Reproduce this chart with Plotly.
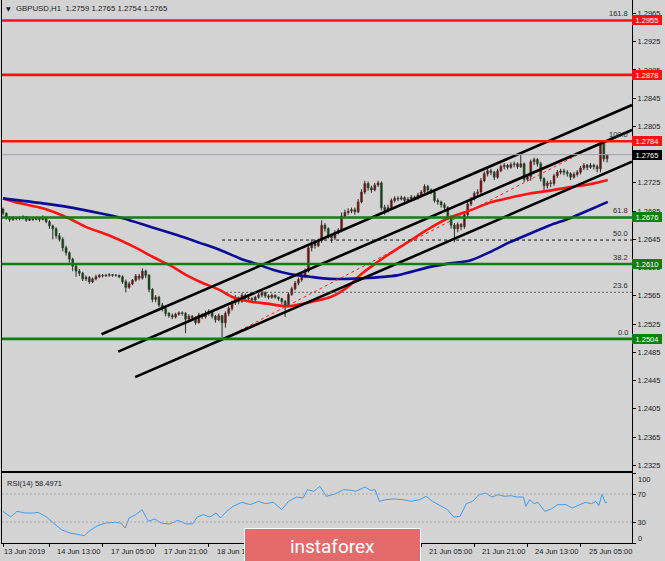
import plotly.graph_objects as go

# ---------------- data ----------------
title_text = "GBPUSD,H1  1.2759 1.2765 1.2754 1.2765"
rsi_text = "RSI(14) 58.4971"
first_open = 1.2688

closes = [
    1.2682, 1.2676, 1.2673, 1.2676, 1.2674, 1.2675, 1.2677, 1.2672, 1.2674, 1.2673,
    1.2675, 1.2673, 1.2676, 1.2670, 1.2664, 1.2660, 1.2650, 1.2645, 1.2633, 1.2626,
    1.2617, 1.2607, 1.2600, 1.2597, 1.2589, 1.2591, 1.2585, 1.2589, 1.2592, 1.2594,
    1.2593, 1.2594, 1.2595, 1.2594, 1.2594, 1.2592, 1.2585, 1.2577, 1.2582, 1.2587,
    1.2593, 1.2590, 1.2600, 1.2594, 1.2574, 1.2560, 1.2563, 1.2552, 1.2547, 1.2540,
    1.2537, 1.2535, 1.2539, 1.2541, 1.2540, 1.2532, 1.2536, 1.2534, 1.2527, 1.2538,
    1.2535, 1.2540, 1.2543, 1.2536, 1.2531, 1.2537, 1.2527, 1.2540, 1.2547, 1.2555,
    1.2562, 1.2557, 1.2566, 1.2562, 1.2561, 1.2559, 1.2563, 1.2566, 1.2570, 1.2565,
    1.2563, 1.2566, 1.2563, 1.2561, 1.2557, 1.2552, 1.2567, 1.2575, 1.2583, 1.2588,
    1.2593, 1.2600, 1.2633, 1.2640, 1.2636, 1.2643, 1.2665, 1.2660, 1.2649, 1.2647,
    1.2655, 1.2658, 1.2678, 1.2683, 1.2685, 1.2687, 1.2684, 1.2698, 1.2712, 1.2724,
    1.2718, 1.2715, 1.2722, 1.2725, 1.2690, 1.2686, 1.2690, 1.2700, 1.2703, 1.2702,
    1.2704, 1.2700, 1.2702, 1.2705, 1.2703, 1.2708, 1.2712, 1.2720, 1.2715, 1.2712,
    1.2700, 1.2698, 1.2694, 1.2690, 1.2677, 1.2665, 1.2660, 1.2666, 1.2663, 1.2680,
    1.2695, 1.2702, 1.2710, 1.2712, 1.2728, 1.2738, 1.2742, 1.2740, 1.2733, 1.2742,
    1.2748, 1.2750, 1.2747, 1.2751, 1.2752, 1.2748, 1.2752, 1.2730, 1.2734, 1.2755,
    1.2758, 1.2752, 1.2731, 1.2721, 1.2725, 1.2724, 1.2735, 1.2740, 1.2742, 1.2740,
    1.2738, 1.2733, 1.2737, 1.2740, 1.2746, 1.2750, 1.2747, 1.2750, 1.2748, 1.2745,
    1.2782, 1.2759, 1.2765]

highs = [
    1.2690, 1.2683, 1.2678, 1.2678, 1.2677, 1.2677, 1.2679, 1.2678, 1.2676, 1.2675,
    1.2677, 1.2676, 1.2679, 1.2677, 1.2672, 1.2666, 1.2662, 1.2654, 1.2648, 1.2636,
    1.2628, 1.2619, 1.2610, 1.2603, 1.2599, 1.2594, 1.2593, 1.2591, 1.2595, 1.2596,
    1.2596, 1.2596, 1.2597, 1.2596, 1.2596, 1.2595, 1.2594, 1.2588, 1.2585, 1.2589,
    1.2596, 1.2596, 1.2604, 1.2602, 1.2596, 1.2576, 1.2566, 1.2565, 1.2555, 1.2549,
    1.2542, 1.2540, 1.2541, 1.2543, 1.2543, 1.2542, 1.2539, 1.2538, 1.2536, 1.2541,
    1.2540, 1.2544, 1.2546, 1.2545, 1.2538, 1.2540, 1.2538, 1.2543, 1.2550, 1.2558,
    1.2566, 1.2564, 1.2569, 1.2568, 1.2565, 1.2563, 1.2565, 1.2569, 1.2573, 1.2571,
    1.2567, 1.2568, 1.2567, 1.2564, 1.2562, 1.2559, 1.2570, 1.2578, 1.2586, 1.2591,
    1.2597, 1.2604, 1.2637, 1.2645, 1.2643, 1.2646, 1.2672, 1.2668, 1.2662, 1.2651,
    1.2658, 1.2661, 1.2683, 1.2687, 1.2689, 1.2690, 1.2690, 1.2702, 1.2716, 1.2728,
    1.2727, 1.2721, 1.2725, 1.2728, 1.2727, 1.2694, 1.2694, 1.2703, 1.2706, 1.2706,
    1.2707, 1.2706, 1.2705, 1.2708, 1.2707, 1.2711, 1.2715, 1.2723, 1.2722, 1.2717,
    1.2714, 1.2703, 1.2700, 1.2697, 1.2692, 1.2679, 1.2668, 1.2669, 1.2668, 1.2684,
    1.2699, 1.2705, 1.2713, 1.2716, 1.2732, 1.2741, 1.2746, 1.2745, 1.2742, 1.2745,
    1.2751, 1.2753, 1.2752, 1.2754, 1.2755, 1.2754, 1.2766, 1.2754, 1.2737, 1.2758,
    1.2761, 1.2760, 1.2755, 1.2733, 1.2728, 1.2729, 1.2738, 1.2743, 1.2745, 1.2745,
    1.2743, 1.2740, 1.2740, 1.2743, 1.2749, 1.2753, 1.2752, 1.2753, 1.2752, 1.2751,
    1.2785, 1.2784, 1.2765]

lows = [
    1.2679, 1.2673, 1.2670, 1.2671, 1.2672, 1.2672, 1.2673, 1.2670, 1.2671, 1.2671,
    1.2672, 1.2670, 1.2672, 1.2668, 1.2660, 1.2645, 1.2646, 1.2642, 1.2628, 1.2622,
    1.2612, 1.2600, 1.2592, 1.2593, 1.2586, 1.2586, 1.2582, 1.2583, 1.2587, 1.2590,
    1.2591, 1.2592, 1.2592, 1.2592, 1.2592, 1.2590, 1.2582, 1.2570, 1.2575, 1.2580,
    1.2585, 1.2587, 1.2588, 1.2590, 1.2570, 1.2556, 1.2556, 1.2549, 1.2543, 1.2536,
    1.2534, 1.2532, 1.2533, 1.2537, 1.2537, 1.2512, 1.2528, 1.2530, 1.2524, 1.2526,
    1.2532, 1.2533, 1.2537, 1.2533, 1.2527, 1.2529, 1.2506, 1.2520, 1.2536, 1.2544,
    1.2552, 1.2553, 1.2555, 1.2559, 1.2558, 1.2556, 1.2557, 1.2561, 1.2563, 1.2562,
    1.2560, 1.2561, 1.2561, 1.2558, 1.2553, 1.2535, 1.2549, 1.2565, 1.2573, 1.2580,
    1.2585, 1.2590, 1.2598, 1.2628, 1.2632, 1.2634, 1.2640, 1.2656, 1.2646, 1.2640,
    1.2644, 1.2652, 1.2655, 1.2676, 1.2680, 1.2682, 1.2680, 1.2682, 1.2696, 1.2709,
    1.2714, 1.2711, 1.2713, 1.2719, 1.2686, 1.2680, 1.2683, 1.2688, 1.2697, 1.2699,
    1.2700, 1.2697, 1.2698, 1.2700, 1.2700, 1.2701, 1.2706, 1.2710, 1.2712, 1.2709,
    1.2697, 1.2694, 1.2690, 1.2686, 1.2672, 1.2660, 1.2641, 1.2655, 1.2658, 1.2660,
    1.2676, 1.2692, 1.2700, 1.2706, 1.2709, 1.2726, 1.2734, 1.2736, 1.2729, 1.2731,
    1.2740, 1.2744, 1.2744, 1.2745, 1.2747, 1.2745, 1.2746, 1.2726, 1.2727, 1.2728,
    1.2750, 1.2748, 1.2727, 1.2714, 1.2717, 1.2719, 1.2721, 1.2732, 1.2737, 1.2736,
    1.2734, 1.2729, 1.2731, 1.2734, 1.2737, 1.2743, 1.2743, 1.2745, 1.2744, 1.2740,
    1.2740, 1.2755, 1.2754]

opens = [first_open] + closes[:-1]
bars = list(range(len(closes)))

# moving averages (bar position, price)
red_ma_x = [0, 5.1, 12, 19.3, 25.3, 32.2, 39.2, 45.2, 51.2, 55.4, 59.3, 65.4, 69.3, 74.4,
            79.5, 85.5, 89.5, 92.5, 98.5, 101.5, 104.5, 107.5, 112, 116.6, 122.6, 128.6,
            134.6, 140.7, 146.7, 152.7, 158.7, 164.8, 170.8, 176.8, 182.2]
red_ma_y = [1.2703, 1.2696, 1.2689, 1.2676, 1.2662, 1.2650, 1.2635, 1.2620, 1.2606, 1.2594,
            1.2585, 1.2573, 1.2563, 1.2557, 1.2554, 1.2550, 1.2553, 1.2556, 1.2563, 1.2570,
            1.2580, 1.2594, 1.2610, 1.2625, 1.2643, 1.2661, 1.2676, 1.2686, 1.2697, 1.2704,
            1.2710, 1.2714, 1.2719, 1.2723, 1.2729]
blue_ma_x = [0, 12, 19.3, 29.2, 36.1, 44.3, 52.4, 59.3, 65.4, 71.4, 76.5, 81.3, 86.4, 92.5,
             98.5, 108.4, 118.7, 128.6, 134.6, 140.7, 146.7, 152.7, 158.7, 164.8, 170.8,
             176.8, 182.2]
blue_ma_y = [1.2703, 1.2696, 1.2691, 1.2682, 1.2675, 1.2663, 1.2651, 1.2640, 1.2630, 1.2618,
             1.2610, 1.2602, 1.2596, 1.2592, 1.2589, 1.2590, 1.2594, 1.2606, 1.2611, 1.2615,
             1.2627, 1.2641, 1.2653, 1.2665, 1.2675, 1.2687, 1.2698]

# channel trend lines (start bar, start price, end bar, end price)
chan_x0 = [29.7, 34.7, 39.8]
chan_y0 = [1.25105, 1.24859, 1.24498]
chan_x1 = [189.5, 189.5, 189.5]
chan_y1 = [1.28353, 1.27999, 1.27550]

# horizontal levels
red_levels = [1.2955, 1.2878, 1.2784]
green_levels = [1.2676, 1.2610, 1.2504]
bid_price = 1.2765

# fibonacci
fib_start_bar, fib_end_bar = 66.5, 181
fib_low, fib_high = 1.2504, 1.2784
fib_names = ["161.8", "100.0", "61.8", "50.0", "38.2", "23.6", "0.0"]
fib_prices = [1.2955, 1.2784, 1.2676, 1.2644, 1.2610, 1.2570, 1.2504]

# RSI (bar position, value)
rsi_x = [0, 2.3, 4.2, 6.8, 9.3, 10.6, 13.1, 15.7, 17.6, 20.2, 22.7, 24.6, 25.9, 28.5, 31,
         33.6, 35.5, 36.8, 38, 40, 41.9, 43.8, 45.7, 47.6, 50.2, 52.7, 55.3, 57.2, 58.5,
         60.4, 62.3, 64.2, 65.5, 67.4, 69.3, 71.9, 74.5, 77, 79, 81.5, 84, 86, 88.5, 90.4,
         91.7, 93.6, 95.5, 97.4, 100, 102.6, 105.1, 106.3, 109, 110.8, 112.1, 113.4, 115.3,
         117.9, 120.4, 123, 125.5, 127.5, 129.4, 131.9, 133.9, 135.8, 137.7, 139.6, 141.5,
         143.4, 145.4, 147.3, 149.2, 151.1, 153, 154.9, 156.8, 157.5, 158.7, 160, 161.2,
         163.2, 165.2, 167.1, 169.6, 171.5, 173.5, 175.4, 177.3, 178.6, 179.5, 180.5,
         181.5, 182]
rsi_v = [45.2, 37.1, 45.2, 42.9, 42.9, 43.8, 37.1, 26.2, 19.0, 14.3, 11.9, 10.5, 16.7, 24.8,
         28.6, 29.5, 28.6, 21.4, 35.7, 40.5, 47.6, 31.0, 34.3, 28.6, 27.1, 32.4, 27.1, 27.6,
         37.1, 40.5, 37.1, 42.9, 35.7, 45.2, 52.4, 58.1, 54.8, 59.5, 56.2, 58.1, 47.6, 59.5,
         65.7, 64.3, 76.2, 73.8, 81.0, 66.7, 70.0, 76.2, 75.2, 73.8, 80.0, 75.2, 76.2, 59.5,
         61.9, 62.9, 61.9, 59.5, 61.9, 66.7, 59.5, 52.4, 47.6, 37.1, 38.1, 56.2, 59.5, 69.0,
         71.4, 65.7, 69.0, 66.7, 67.6, 65.7, 65.7, 52.4, 61.9, 56.2, 58.1, 45.2, 48.6, 54.8,
         54.8, 50.0, 53.8, 58.1, 56.2, 59.5, 53.3, 70.0, 57.1, 58.5]
rsi_levels = [30, 70]

# price axis and time axis labels (labels fully hidden by boxes are left blank)
price_ticks = [1.2325, 1.2365, 1.2405, 1.2445, 1.2485, 1.2525, 1.2565, 1.2605, 1.2645,
               1.2685, 1.2725, 1.2765, 1.2805, 1.2845, 1.2885, 1.2925, 1.2965]
price_tick_text = ["1.2325", "1.2365", "1.2405", "1.2445", "1.2485", "1.2525", "1.2565", "1.2605",
                   "1.2645", "1.2685", "1.2725", "", "1.2805", "1.2845", "1.2885", "1.2925", "1.2965"]
time_labels = ["13 Jun 2019", "14 Jun 13:00", "17 Jun 05:00", "17 Jun 21:00", "18 Jun 13:00",
               "21 Jun 05:00", "21 Jun 21:00", "24 Jun 13:00", "25 Jun 05:00"]
time_label_bars = [0, 14, 30, 46, 62, 126, 142, 158, 174]
time_tick_bars = [0, 14, 30, 46, 62, 78, 94, 110, 126, 142, 158, 174]

# ---------------- styling / geometry ----------------
BG = "#d3d3d3"
RED = "#ff1010"
GREEN = "#0f7f0f"
TXT = "#1a1a1a"
FONT = "Liberation Sans"
FS = 7.5

PL, PR, PT, PB = 2, 632, 0, 543
MAIN_BOTTOM, RSI_TOP = 471, 473
X_RANGE = [-0.3, 189.5]
Y_RANGE = [1.23169, 1.29840]


def px_x(px):
    return (px - PL) / (PR - PL)


def px_y(py):
    return (PB - py) / (PB - PT)


fig = go.Figure()

# candle wicks
wx, wy = [], []
for i, h, l in zip(bars, highs, lows):
    wx += [i, i, None]
    wy += [l, h, None]
fig.add_trace(go.Scatter(x=wx, y=wy, mode="lines", line=dict(color="#2a2a2a", width=1),
                         hoverinfo="skip", showlegend=False, xaxis="x", yaxis="y"))

# candle bodies
for up, col in [(True, "#e80000"), (False, "#0c7a0c")]:
    bx, bb, bh = [], [], []
    for i, o, c in zip(bars, opens, closes):
        if (c >= o) == up:
            bx.append(i)
            bb.append(min(o, c))
            bh.append(max(abs(c - o), 0.00002))
    fig.add_trace(go.Bar(x=bx, y=bh, base=bb, width=0.62, marker=dict(color=col,
                         line=dict(color="#202020", width=0.4)),
                         hoverinfo="skip", showlegend=False, xaxis="x", yaxis="y"))

# moving averages
fig.add_trace(go.Scatter(x=red_ma_x, y=red_ma_y, mode="lines",
                         line=dict(color="#ff1414", width=2.6, shape="spline", smoothing=0.8),
                         hoverinfo="skip", showlegend=False, xaxis="x", yaxis="y"))
fig.add_trace(go.Scatter(x=blue_ma_x, y=blue_ma_y, mode="lines",
                         line=dict(color="#0b0b96", width=2.6, shape="spline", smoothing=0.8),
                         hoverinfo="skip", showlegend=False, xaxis="x", yaxis="y"))

# fib diagonal
fig.add_trace(go.Scatter(x=[fib_start_bar, fib_end_bar], y=[fib_low, fib_high], mode="lines",
                         line=dict(color="#ff2020", width=1, dash="dot"),
                         hoverinfo="skip", showlegend=False, xaxis="x", yaxis="y"))

# channel lines
for x0, y0, x1, y1 in zip(chan_x0, chan_y0, chan_x1, chan_y1):
    fig.add_trace(go.Scatter(x=[x0, x1], y=[y0, y1], mode="lines",
                             line=dict(color="black", width=2.6),
                             hoverinfo="skip", showlegend=False, xaxis="x", yaxis="y"))

# RSI
fig.add_trace(go.Scatter(x=rsi_x, y=rsi_v, mode="lines", line=dict(color="#3f9cf2", width=1),
                         hoverinfo="skip", showlegend=False, xaxis="x2", yaxis="y2"))

shapes = []
shapes.append(dict(type="line", xref="x", yref="y", x0=X_RANGE[0], x1=X_RANGE[1],
                   y0=bid_price, y1=bid_price, line=dict(color="#a2a2ac", width=1)))
for lv in red_levels:
    shapes.append(dict(type="line", xref="x", yref="y", x0=X_RANGE[0], x1=X_RANGE[1],
                       y0=lv, y1=lv, line=dict(color=RED, width=2.6)))
for lv in green_levels:
    shapes.append(dict(type="line", xref="x", yref="y", x0=X_RANGE[0], x1=X_RANGE[1],
                       y0=lv, y1=lv, line=dict(color=GREEN, width=2.6)))
shapes.append(dict(type="line", xref="x", yref="y", x0=fib_start_bar - 0.5, x1=X_RANGE[1],
                   y0=fib_prices[3], y1=fib_prices[3], line=dict(color="#111111", width=1, dash="3px,3px")))
shapes.append(dict(type="line", xref="x", yref="y", x0=fib_start_bar - 0.5, x1=X_RANGE[1],
                   y0=fib_prices[5], y1=fib_prices[5], line=dict(color="#5a5a5a", width=1, dash="2px,2px")))
for lv in rsi_levels:
    shapes.append(dict(type="line", xref="x2", yref="y2", x0=X_RANGE[0], x1=X_RANGE[1],
                       y0=lv, y1=lv, line=dict(color="#a8a8a8", width=1, dash="2px,2px")))

ann = []
ann.append(dict(xref="paper", yref="paper", x=px_x(4), y=px_y(9), text="▼", showarrow=False,
                xanchor="left", yanchor="middle", font=dict(family="DejaVu Sans", size=6, color=TXT)))
ann.append(dict(xref="paper", yref="paper", x=px_x(14), y=px_y(9), text=title_text, showarrow=False,
                xanchor="left", yanchor="middle", font=dict(family=FONT, size=7.8, color=TXT)))
ann.append(dict(xref="paper", yref="paper", x=px_x(5), y=px_y(484), text=rsi_text, showarrow=False,
                xanchor="left", yanchor="middle", font=dict(family=FONT, size=7.5, color=TXT)))

for name, pr in zip(fib_names, fib_prices):
    ann.append(dict(xref="paper", yref="y", x=px_x(630), y=pr, text=name, showarrow=False,
                    xanchor="right", yanchor="bottom", yshift=0,
                    font=dict(family=FONT, size=FS, color="#2a2a2a")))

box_specs = [(p, RED) for p in red_levels] + [(p, GREEN) for p in green_levels] + [(bid_price, "#000000")]
for pr, col in box_specs:
    ann.append(dict(xref="paper", yref="y", x=1, y=pr, text=f"{pr:.4f}", showarrow=False,
                    xanchor="left", yanchor="middle", bgcolor=col, width=30, height=10,
                    borderpad=0, borderwidth=0, font=dict(family=FONT, size=FS, color="white")))

for k, (lab, b) in enumerate(zip(time_labels, time_label_bars)):
    xpos = X_RANGE[0] if k == 0 else b + 1.8
    ann.append(dict(xref="x2", yref="paper", x=xpos, y=px_y(551), text=lab, showarrow=False,
                    xanchor="left", yanchor="middle", font=dict(family=FONT, size=FS, color=TXT)))

ann.append(dict(xref="paper", yref="paper", x=px_x(636), y=px_y(479), text="100", showarrow=False,
                xanchor="left", yanchor="middle", font=dict(family=FONT, size=FS, color=TXT)))
ann.append(dict(xref="paper", yref="paper", x=px_x(636), y=px_y(538), text="0", showarrow=False,
                xanchor="left", yanchor="middle", font=dict(family=FONT, size=FS, color=TXT)))

# watermark
ann.append(dict(xref="paper", yref="paper", x=px_x(332), y=px_y(546), text="instaforex",
                showarrow=False, xanchor="center", yanchor="middle", bgcolor="#e36b6b",
                bordercolor="white", borderwidth=1, borderpad=0, width=175, height=35,
                font=dict(family="Roboto", size=19, color="white")))

axis_common = dict(showgrid=False, zeroline=False, showline=True, mirror=True,
                   linecolor="black", linewidth=1)

fig.update_layout(
    width=665, height=561,
    margin=dict(l=PL, r=665 - PR, t=PT, b=561 - PB),
    paper_bgcolor=BG, plot_bgcolor=BG,
    barmode="overlay", showlegend=False,
    font=dict(family=FONT, size=FS, color=TXT),
    xaxis=dict(domain=[0, 1], anchor="y", range=X_RANGE, showticklabels=False, ticks="", **axis_common),
    xaxis2=dict(domain=[0, 1], anchor="y2", matches="x", range=X_RANGE, showticklabels=False,
                ticks="outside", ticklen=3, tickcolor="black", tickvals=time_tick_bars, **axis_common),
    yaxis=dict(domain=[px_y(MAIN_BOTTOM), 1], range=Y_RANGE, side="right", anchor="x",
               tickvals=price_ticks, ticktext=price_tick_text,
               ticks="outside", ticklen=3, tickcolor="black", tickfont=dict(family=FONT, size=FS, color=TXT),
               **axis_common),
    yaxis2=dict(domain=[0, px_y(RSI_TOP)], range=[0, 100], side="right", anchor="x2",
                tickvals=[0, 30, 70, 100], ticktext=["", "30", "70", ""],
                ticks="outside", ticklen=3, tickcolor="black", tickfont=dict(family=FONT, size=FS, color=TXT),
                **axis_common),
    shapes=shapes,
    annotations=ann,
)

fig.write_html("out.html", config={"displayModeBar": False},
               post_script="document.body.style.margin='0';document.body.style.background='%s';" % BG)
